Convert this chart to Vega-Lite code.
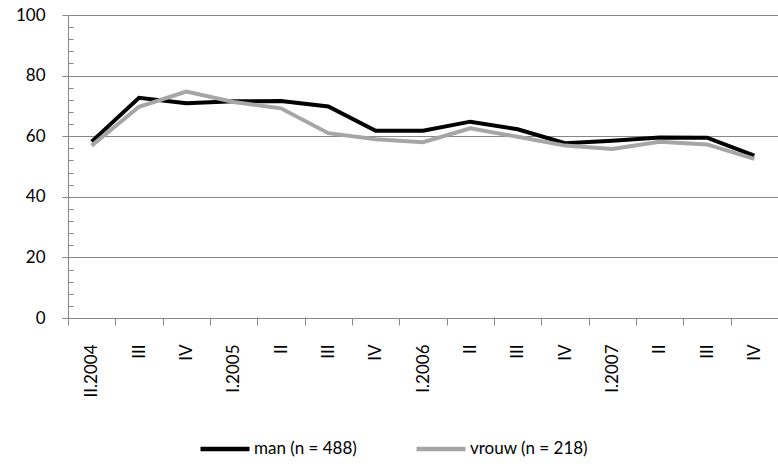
{
  "$schema": "https://vega.github.io/schema/vega-lite/v6.json",
  "autosize": {"type": "none"},
  "width": 710,
  "height": 303,
  "padding": {"left": 68, "top": 15, "right": 0, "bottom": 146},
  "background": "white",
  "config": {
    "view": {"stroke": null},
    "font": "Lato",
    "axis": {"labelFont": "Lato", "labelFontSize": 17, "labelColor": "#000000", "domainColor": "#868686", "tickColor": "#868686", "gridColor": "#868686"}
  },
  "data": {
    "values": [
      {"kwartaal": "II.2004", "reeks": "man (n = 488)", "waarde": 58.2},
      {"kwartaal": "III.2004", "reeks": "man (n = 488)", "waarde": 72.7},
      {"kwartaal": "IV.2004", "reeks": "man (n = 488)", "waarde": 70.9},
      {"kwartaal": "I.2005", "reeks": "man (n = 488)", "waarde": 71.5},
      {"kwartaal": "II.2005", "reeks": "man (n = 488)", "waarde": 71.6},
      {"kwartaal": "III.2005", "reeks": "man (n = 488)", "waarde": 69.8},
      {"kwartaal": "IV.2005", "reeks": "man (n = 488)", "waarde": 61.8},
      {"kwartaal": "I.2006", "reeks": "man (n = 488)", "waarde": 61.8},
      {"kwartaal": "II.2006", "reeks": "man (n = 488)", "waarde": 64.8},
      {"kwartaal": "III.2006", "reeks": "man (n = 488)", "waarde": 62.3},
      {"kwartaal": "IV.2006", "reeks": "man (n = 488)", "waarde": 57.7},
      {"kwartaal": "I.2007", "reeks": "man (n = 488)", "waarde": 58.5},
      {"kwartaal": "II.2007", "reeks": "man (n = 488)", "waarde": 59.6},
      {"kwartaal": "III.2007", "reeks": "man (n = 488)", "waarde": 59.5},
      {"kwartaal": "IV.2007", "reeks": "man (n = 488)", "waarde": 53.6},
      {"kwartaal": "II.2004", "reeks": "vrouw (n = 218)", "waarde": 56.9},
      {"kwartaal": "III.2004", "reeks": "vrouw (n = 218)", "waarde": 69.7},
      {"kwartaal": "IV.2004", "reeks": "vrouw (n = 218)", "waarde": 74.7},
      {"kwartaal": "I.2005", "reeks": "vrouw (n = 218)", "waarde": 71.3},
      {"kwartaal": "II.2005", "reeks": "vrouw (n = 218)", "waarde": 69.2},
      {"kwartaal": "III.2005", "reeks": "vrouw (n = 218)", "waarde": 61.0},
      {"kwartaal": "IV.2005", "reeks": "vrouw (n = 218)", "waarde": 59.0},
      {"kwartaal": "I.2006", "reeks": "vrouw (n = 218)", "waarde": 58.0},
      {"kwartaal": "II.2006", "reeks": "vrouw (n = 218)", "waarde": 62.6},
      {"kwartaal": "III.2006", "reeks": "vrouw (n = 218)", "waarde": 59.8},
      {"kwartaal": "IV.2006", "reeks": "vrouw (n = 218)", "waarde": 56.9},
      {"kwartaal": "I.2007", "reeks": "vrouw (n = 218)", "waarde": 55.8},
      {"kwartaal": "II.2007", "reeks": "vrouw (n = 218)", "waarde": 58.2},
      {"kwartaal": "III.2007", "reeks": "vrouw (n = 218)", "waarde": 57.3},
      {"kwartaal": "IV.2007", "reeks": "vrouw (n = 218)", "waarde": 52.5}
    ]
  },
  "mark": {"type": "line", "strokeWidth": 4},
  "encoding": {
    "x": {
      "field": "kwartaal",
      "type": "ordinal",
      "sort": null,
      "scale": {"type": "point", "padding": 0.5},
      "axis": {
        "title": null,
        "tickOffset": -23.67,
        "labelOffset": 23.67,
        "tickSize": 7,
        "labelAngle": 270,
        "labelPadding": 19,
        "labelExpr": "indexof(datum.value, 'I.') == 0 || datum.value == 'II.2004' ? datum.value : slice(datum.value, 0, indexof(datum.value, '.'))",
        "grid": false
      }
    },
    "y": {
      "field": "waarde",
      "type": "quantitative",
      "scale": {"domain": [0, 100]},
      "axis": {
        "title": null,
        "values": [0,4,8,12,16,20,24,28,32,36,40,44,48,52,56,60,64,68,72,76,80,84,88,92,96,100],
        "labelExpr": "datum.value % 20 == 0 ? datum.label : ''",
        "gridOpacity": {"condition": {"test": "datum.value % 20 == 0", "value": 1}, "value": 0},
        "tickSize": {"condition": {"test": "datum.value % 20 == 0", "value": 6}, "value": -5},
        "labelPadding": 17
      }
    },
    "color": {
      "field": "reeks",
      "type": "nominal",
      "scale": {"domain": ["man (n = 488)", "vrouw (n = 218)"], "range": ["#000000", "#a6a6a6"]},
      "legend": {
        "title": null,
        "orient": "none",
        "direction": "horizontal",
        "legendX": 130,
        "legendY": 407,
        "labelFont": "Lato",
        "labelFontSize": 17,
        "labelColor": "#000000",
        "symbolSize": 2401,
        "symbolStrokeWidth": 4.5,
        "labelOffset": 2,
        "columnPadding": 50
      }
    }
  }
}
